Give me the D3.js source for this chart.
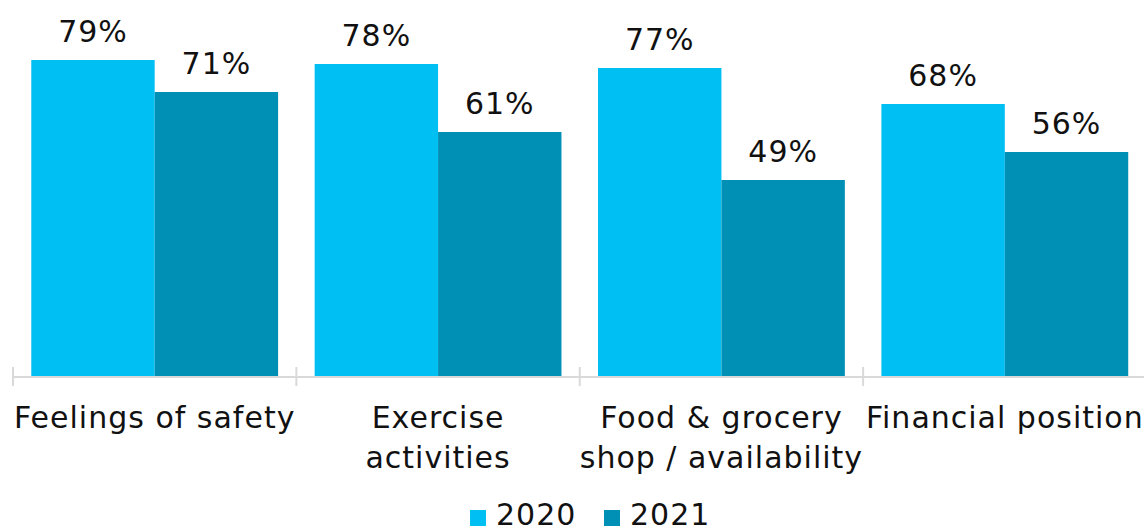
<!DOCTYPE html>
<html>
<head>
<meta charset="utf-8">
<script src="https://cdn.jsdelivr.net/npm/d3@7"></script>
<style>
  html, body { margin: 0; padding: 0; background: #fff; }
  svg { display: block; }
  text { font-family: "DejaVu Sans", sans-serif; fill: #111; }
</style>
</head>
<body>
<svg id="chart" width="1144" height="529"></svg>
<script>
// Categories (each label split into display lines)
const categories = ["Feelings of safety", "Exercise activities", "Food & grocery shop / availability", "Financial position"];
const categoryLines = [["Feelings of safety"], ["Exercise", "activities"], ["Food & grocery", "shop / availability"], ["Financial position"]];
const seriesNames = ["2020", "2021"];
const values2020 = [79, 78, 77, 68];
const values2021 = [71, 61, 49, 56];
const seriesColors = ["#00bff3", "#008fb5"];

const svg = d3.select("#chart");
const W = 1144, H = 529;
const baseY = 376;
const fontSize = 30;
const spacing = "1px";

const x0 = d3.scaleBand().domain(categories).range([13, 1146.5]).paddingInner(0.129).paddingOuter(0.0645);
const x1 = d3.scaleBand().domain(seriesNames).range([0, x0.bandwidth()]);
const y = d3.scaleLinear().domain([0, 94]).range([baseY, 0]);

const rows = categories.map((c, i) => ({
  cat: c,
  vals: [{ s: "2020", v: values2020[i] }, { s: "2021", v: values2021[i] }]
}));

const color = d3.scaleOrdinal().domain(seriesNames).range(seriesColors);

// Bars
const g = svg.append("g");
const groups = g.selectAll("g.grp").data(rows).join("g")
  .attr("class", "grp")
  .attr("transform", d => `translate(${x0(d.cat)},0)`);

groups.selectAll("rect").data(d => d.vals).join("rect")
  .attr("x", d => x1(d.s))
  .attr("y", d => y(d.v))
  .attr("width", x1.bandwidth())
  .attr("height", d => baseY - y(d.v))
  .attr("fill", d => color(d.s));

// Value labels
groups.selectAll("text.val").data(d => d.vals).join("text")
  .attr("class", "val")
  .attr("x", d => x1(d.s) + x1.bandwidth() / 2)
  .attr("y", d => y(d.v) - 18)
  .attr("text-anchor", "middle")
  .style("font-size", fontSize + "px")
  .style("letter-spacing", spacing)
  .text(d => d.v + "%");

// Category axis: baseline plus boundary ticks between groups
const step = x0.step();
const boundaries = d3.range(categories.length + 1).map(i => 13 + i * step);
svg.append("line")
  .attr("x1", 13).attr("x2", W)
  .attr("y1", baseY + 1).attr("y2", baseY + 1)
  .attr("stroke", "#d9d9d9").attr("stroke-width", 2);
svg.selectAll("line.tick").data(boundaries).join("line")
  .attr("class", "tick")
  .attr("x1", d => d).attr("x2", d => d)
  .attr("y1", baseY - 9).attr("y2", baseY + 10)
  .attr("stroke", "#d9d9d9").attr("stroke-width", 2);

// Category labels
const catLabels = svg.selectAll("text.cat").data(categories).join("text")
  .attr("class", "cat")
  .attr("text-anchor", "middle")
  .style("font-size", fontSize + "px")
  .style("letter-spacing", spacing)
  .attr("transform", d => `translate(${x0(d) + x0.bandwidth() / 2},428)`);
catLabels.selectAll("tspan").data((d, i) => categoryLines[i]).join("tspan")
  .attr("x", 0)
  .attr("y", (d, i) => i * 40)
  .text(d => d);

// Legend
const legendItems = [{ s: "2020", x: 470 }, { s: "2021", x: 604 }];
const lg = svg.selectAll("g.leg").data(legendItems).join("g")
  .attr("class", "leg")
  .attr("transform", d => `translate(${d.x},510)`);
lg.append("rect").attr("width", 16).attr("height", 16).attr("fill", d => color(d.s));
lg.append("text").attr("x", 26).attr("y", 15)
  .style("font-size", fontSize + "px")
  .style("letter-spacing", spacing)
  .text(d => d.s);
</script>
</body>
</html>
